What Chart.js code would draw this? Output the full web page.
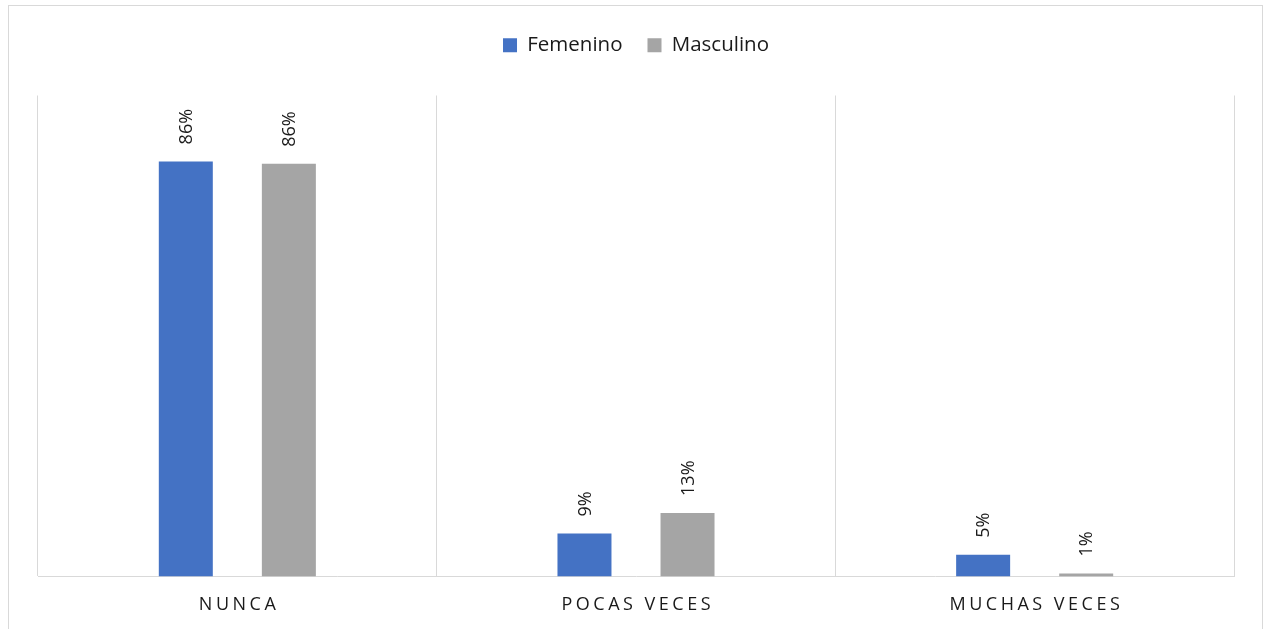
<!DOCTYPE html>
<html>
<head>
<meta charset="utf-8">
<script src="https://cdn.jsdelivr.net/npm/chart.js@4.4.1/dist/chart.umd.min.js"></script>
<style>
  html, body { margin: 0; padding: 0; background: #fff; }
  #wrap { position: relative; width: 1264px; height: 629px; overflow: hidden; }
  #frame { position: absolute; left: 8px; top: 5px; width: 1255px; height: 700px; border: 1px solid #d9d9d9; box-sizing: border-box; }
  canvas { position: absolute; left: 0; top: 0; }
</style>
</head>
<body>
<div id="wrap">
  <div id="frame"></div>
  <canvas id="c" width="1264" height="629"></canvas>
</div>
<script>
const categories = ["NUNCA", "POCAS VECES", "MUCHAS VECES"];
const femenino = [86.3, 8.9, 4.5];
const masculino = [85.8, 13.2, 0.6];
const seriesNames = ["Femenino", "Masculino"];
const yTicks = [0, 100];

const FONT = "'Open Sans', 'Noto Sans', sans-serif";

const barLabels = {
  id: 'barLabels',
  afterDatasetsDraw(chart) {
    const ctx = chart.ctx;
    ctx.save();
    ctx.font = "18px " + FONT;
    ctx.fillStyle = '#1a1a1a';
    ctx.textAlign = 'left';
    ctx.textBaseline = 'middle';
    chart.data.datasets.forEach((ds, di) => {
      const meta = chart.getDatasetMeta(di);
      meta.data.forEach((el, i) => {
        const txt = Math.round(ds.data[i]) + '%';
        ctx.save();
        ctx.translate(el.x, el.y - 17);
        ctx.rotate(-Math.PI / 2);
        ctx.fillText(txt, 0, 1);
        ctx.restore();
      });
    });
    ctx.restore();
  }
};

const legendSpace = {
  id: 'legendSpace',
  beforeInit(chart) {
    const orig = chart.legend.fit;
    chart.legend.fit = function () {
      orig.call(this);
      this.height += 30;
    };
  },
  afterUpdate(chart) {
    const sx = chart.scales.x;
    if (sx && !sx._spaced) {
      const orig = sx.drawLabels;
      sx.drawLabels = function (area) {
        const ctx = this.ctx;
        ctx.save();
        ctx.letterSpacing = '3.5px';
        ctx.translate(1.75, 0);
        orig.call(this, area);
        ctx.restore();
      };
      sx._spaced = true;
    }
  }
};

new Chart(document.getElementById('c'), {
  type: 'bar',
  data: {
    labels: categories,
    datasets: [
      { label: seriesNames[0], data: femenino, backgroundColor: '#4472C4', categoryPercentage: 0.517, barPercentage: 0.524 },
      { label: seriesNames[1], data: masculino, backgroundColor: '#A5A5A5', categoryPercentage: 0.517, barPercentage: 0.524 }
    ]
  },
  options: {
    responsive: false,
    animation: false,
    devicePixelRatio: 1,
    layout: { padding: { left: 38, right: 30, top: 10, bottom: -5 } },
    plugins: {
      legend: {
        position: 'top',
        labels: {
          boxWidth: 14, boxHeight: 14, padding: 25,
          color: '#1a1a1a',
          font: { family: FONT, size: 20.5 }
        }
      },
      tooltip: { enabled: false }
    },
    scales: {
      x: {
        grid: { color: '#d9d9d9', offset: true, drawTicks: false, lineWidth: 1 },
        border: { color: '#d9d9d9', width: 1 },
        ticks: {
          color: '#1a1a1a',
          padding: 18,
          font: { family: FONT, size: 18 }
        }
      },
      y: {
        display: false,
        min: yTicks[0],
        max: yTicks[1]
      }
    }
  },
  plugins: [barLabels, legendSpace]
});
</script>
</body>
</html>
